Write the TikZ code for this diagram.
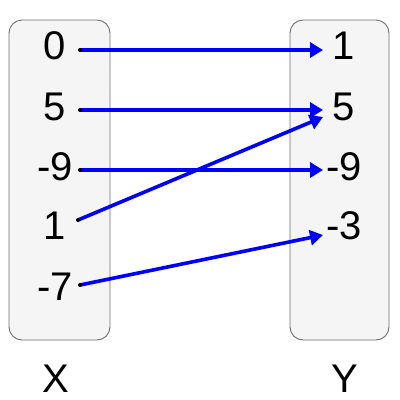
\documentclass[tikz,border=0pt]{standalone}
\usepackage{fontspec}
\setmainfont{Liberation Sans}
\usetikzlibrary{arrows.meta}
\begin{document}
\begin{tikzpicture}[x=1pt,y=-1pt,
  setbox/.style={draw={rgb,255:red,110;green,110;blue,110},fill={rgb,255:red,245;green,245;blue,245},rounded corners=13pt,line width=0.9pt},
  val/.style={inner sep=0pt,font=\fontsize{40}{42}\selectfont},
  arr/.style={draw={rgb,255:red,0;green,0;blue,255},line width=3.6pt,-{Triangle[length=13pt,width=15pt]}}]
\useasboundingbox (0,0) rectangle (400,400);
\draw[setbox] (9,20) rectangle (110,340);
\draw[setbox] (290,20) rectangle (389,340);
% left values
\node[val] (xa) at (55,46) {0};
\node[val] (xb) at (55,107) {5};
\node[val] (xc) at (55,167) {-9};
\node[val] (xd) at (55,226) {1};
\node[val] (xe) at (55,287) {-7};
% right values
\node[val] (ya) at (344,46) {1};
\node[val] (yb) at (344,107) {5};
\node[val] (yc) at (344,167) {-9};
\node[val] (yd) at (344,226) {-3};
% set labels
\node[val] (lx) at (56,379) {X};
\node[val] (ly) at (345,379) {Y};
% connector ends
\coordinate (sa) at (80,50);
\coordinate (sb) at (80,110);
\coordinate (sc) at (80,170);
\coordinate (sd) at (78,220);
\coordinate (se) at (80,285);
\coordinate (ta) at (323,50);
\coordinate (tb) at (323,110);
\coordinate (tb2) at (323,117);
\coordinate (tc) at (323,170);
\coordinate (td) at (323,235);
\draw[arr] (sa) -- (ta);
\draw[arr] (sb) -- (tb);
\draw[arr] (sc) -- (tc);
\draw[arr] (sd) -- (tb2);
\draw[arr] (se) -- (td);
\foreach \p in {sa,sb,sc,sd,se} \fill (\p) circle[radius=2pt];
\end{tikzpicture}
\end{document}
